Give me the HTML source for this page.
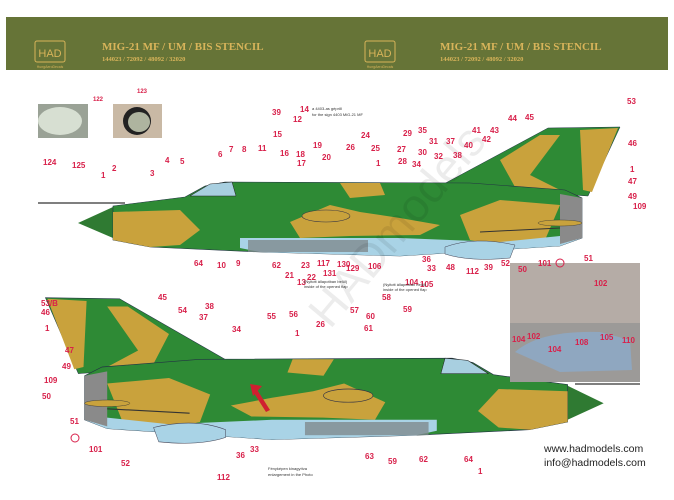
<!DOCTYPE html>
<html><head><meta charset="utf-8"><style>
html,body{margin:0;padding:0;background:#fff;}
svg{display:block;}
.r{font-family:"Liberation Sans",sans-serif;font-weight:bold;font-size:8px;fill:#d8204a;}
.s{font-family:"Liberation Sans",sans-serif;font-size:4px;fill:#333;}
</style></head><body>
<svg width="674" height="500" viewBox="0 0 674 500" xmlns="http://www.w3.org/2000/svg">
<defs>
<g id="plane">
  <path d="M78,223 L113,207 L113,238 Z" fill="#2f7a32"/>
  <path d="M440,186 L548,128 L620,127 L588,196 Z" fill="#2e8a35" stroke="#234" stroke-width="0.5"/>
  <path d="M500,160 L540,135 L560,135 L530,175 L560,190 L520,196 Z" fill="#c9a23c"/>
  <path d="M580,130 L618,128 L592,192 L583,190 Z" fill="#c9a23c"/>
  <path d="M113,206 L185,197 L205,186 L225,182 L470,183 L565,190 L582,198 L582,238 L560,246 L480,251 L400,256 L260,252 L150,247 L113,240 Z" fill="#2e8a35" stroke="#234" stroke-width="0.6"/>
  <path d="M190,196 L210,184 L232,182 L236,196 Z" fill="#a8cfe0" stroke="#222" stroke-width="0.5"/>
  <path d="M113,212 L180,210 L200,230 L180,245 L150,247 L113,240 Z" fill="#c9a23c"/>
  <path d="M290,222 L330,205 L360,212 L400,218 L440,225 L420,235 L350,236 L300,238 Z" fill="#c9a23c"/>
  <path d="M340,183 L380,183 L385,195 L350,198 Z" fill="#c9a23c"/>
  <path d="M460,215 L500,200 L560,205 L545,240 L500,246 L470,240 Z" fill="#c9a23c"/>
  <path d="M240,238 L400,238 L500,242 L560,236 L582,238 L560,246 L480,251 L400,256 L260,252 L240,248 Z" fill="#a9d3e6"/>
  <path d="M445,247 Q475,236 515,245 L510,258 Q470,262 445,254 Z" fill="#a9d3e6" stroke="#445" stroke-width="0.5"/>
  <rect x="248" y="240" width="120" height="12" fill="#7f8b8f" opacity="0.8"/>
  <ellipse cx="326" cy="216" rx="24" ry="6" fill="#c9a23c" stroke="#334" stroke-width="0.6"/>
  <path d="M560,194 L582,198 L582,238 L560,244 Z" fill="#8a8a8a"/>
  <line x1="480" y1="232" x2="560" y2="228" stroke="#333" stroke-width="1"/>
  <ellipse cx="560" cy="223" rx="22" ry="3" fill="#c9a23c" stroke="#333" stroke-width="0.4"/>
</g>
</defs>
<rect x="6" y="17" width="662" height="53" fill="#6d7a3c"/>
<rect x="6" y="17" width="662" height="53" fill="#55662e" opacity="0.3"/>
<rect x="35" y="41" width="30" height="21" fill="none" stroke="#d8b45a" stroke-width="1" rx="2"/>
<text x="50" y="57" text-anchor="middle" font-family="Liberation Sans,sans-serif" font-size="11" fill="#d8b45a">HAD</text>
<text x="50" y="68" text-anchor="middle" font-family="Liberation Sans,sans-serif" font-size="3.5" fill="#d8b45a">HungAeroDecals</text>
<rect x="365" y="41" width="30" height="21" fill="none" stroke="#d8b45a" stroke-width="1" rx="2"/>
<text x="380" y="57" text-anchor="middle" font-family="Liberation Sans,sans-serif" font-size="11" fill="#d8b45a">HAD</text>
<text x="380" y="68" text-anchor="middle" font-family="Liberation Sans,sans-serif" font-size="3.5" fill="#d8b45a">HungAeroDecals</text>
<text x="102" y="50" font-family="Liberation Serif,serif" font-weight="bold" font-size="11" fill="#d8b45a">MIG-21 MF / UM / BIS STENCIL</text>
<text x="102" y="61" font-family="Liberation Serif,serif" font-weight="bold" font-size="6.5" fill="#d8b45a">144023 / 72092 / 48092 / 32020</text>
<text x="440" y="50" font-family="Liberation Serif,serif" font-weight="bold" font-size="11" fill="#d8b45a">MIG-21 MF / UM / BIS STENCIL</text>
<text x="440" y="61" font-family="Liberation Serif,serif" font-weight="bold" font-size="6.5" fill="#d8b45a">144023 / 72092 / 48092 / 32020</text>
<rect x="38" y="104" width="50" height="34" fill="#9aa296"/>
<ellipse cx="60" cy="121" rx="22" ry="14" fill="#d7dfd2"/>
<rect x="113" y="104" width="49" height="34" fill="#c9b9a5"/>
<circle cx="137" cy="121" r="14" fill="#222"/><ellipse cx="139" cy="122" rx="11" ry="10" fill="#aeb49f"/>
<line x1="38" y1="203" x2="125" y2="203" stroke="#555" stroke-width="1.5"/>
<use href="#plane"/>
<use href="#plane" transform="translate(684,158) scale(-1.03,1.1)"/>
<line x1="575" y1="384" x2="640" y2="384" stroke="#555" stroke-width="1.5"/>
<rect x="510" y="263" width="130" height="119" fill="#9c9a98"/>
<rect x="510" y="263" width="130" height="60" fill="#b5aca6"/>
<path d="M515,352 Q540,330 600,332 L630,340 L632,370 L560,372 Z" fill="#8fa7c0"/>
<text x="594" y="286" class="r">102</text>
<text class="r" x="512" y="342" font-size="6">104</text>
<text class="r" x="527" y="339" font-size="6">102</text>
<text class="r" x="548" y="352" font-size="6">104</text>
<text class="r" x="575" y="345" font-size="6">108</text>
<text class="r" x="600" y="340" font-size="6">105</text>
<text class="r" x="622" y="343" font-size="6">110</text>
<text x="330" y="330" font-family="Liberation Sans,sans-serif" font-size="46" fill="#000" opacity="0.07" transform="rotate(-50 330 330)">HADmodels</text>
<polygon points="256,388 270,410 266,412 252,390" fill="#d02030"/>
<polygon points="250,384 262,386 253,396" fill="#d02030"/>
<g class="r">
<text x="93" y="101" font-size="6">122</text><text x="137" y="93" font-size="6">123</text>
<text x="43" y="165">124</text><text x="72" y="168">125</text>
<text x="101" y="178">1</text><text x="112" y="171">2</text><text x="150" y="176">3</text><text x="165" y="163">4</text><text x="180" y="164">5</text>
<text x="218" y="157">6</text><text x="229" y="152">7</text><text x="242" y="152">8</text><text x="258" y="151">11</text>
<text x="272" y="115">39</text><text x="300" y="112">14</text><text x="293" y="122">12</text><text x="273" y="137">15</text>
<text x="280" y="156">16</text><text x="296" y="157">18</text><text x="313" y="148">19</text><text x="322" y="160">20</text><text x="297" y="166">17</text>
<text x="346" y="150">26</text><text x="361" y="138">24</text><text x="371" y="151">25</text><text x="397" y="152">27</text><text x="376" y="166">1</text>
<text x="403" y="136">29</text><text x="418" y="133">35</text><text x="429" y="144">31</text><text x="446" y="144">37</text>
<text x="418" y="155">30</text><text x="434" y="159">32</text><text x="398" y="164">28</text><text x="412" y="167">34</text><text x="453" y="158">38</text>
<text x="464" y="148">40</text><text x="472" y="133">41</text><text x="490" y="133">43</text><text x="482" y="142">42</text>
<text x="508" y="121">44</text><text x="525" y="120">45</text><text x="627" y="104">53</text><text x="628" y="146">46</text>
<text x="630" y="172">1</text><text x="628" y="184">47</text><text x="628" y="199">49</text><text x="633" y="209">109</text>
<text x="194" y="266">64</text><text x="217" y="268">10</text><text x="236" y="266">9</text><text x="272" y="268">62</text>
<text x="285" y="278">21</text><text x="301" y="268">23</text><text x="307" y="280">22</text><text x="317" y="266">117</text><text x="323" y="276">131</text>
<text x="337" y="267">130</text><text x="346" y="271">129</text><text x="368" y="269">106</text><text x="405" y="285">104</text><text x="420" y="287">105</text>
<text x="422" y="262">36</text><text x="427" y="271">33</text><text x="446" y="270">48</text><text x="466" y="274">112</text><text x="484" y="270">39</text>
<text x="501" y="266">52</text><text x="518" y="272">50</text><text x="538" y="266">101</text><text x="584" y="261">51</text>
<text x="297" y="285">13</text>
<text x="41" y="306">53/B</text><text x="158" y="300">45</text><text x="178" y="313">54</text><text x="205" y="309">38</text><text x="199" y="320">37</text>
<text x="232" y="332">34</text><text x="267" y="319">55</text><text x="289" y="317">56</text><text x="295" y="336">1</text><text x="316" y="327">26</text>
<text x="350" y="313">57</text><text x="366" y="319">60</text><text x="382" y="300">58</text><text x="364" y="331">61</text><text x="403" y="312">59</text>
<text x="41" y="315">46</text><text x="45" y="331">1</text><text x="65" y="353">47</text><text x="62" y="369">49</text><text x="44" y="383">109</text><text x="42" y="399">50</text>
<text x="70" y="424">51</text><text x="89" y="452">101</text><text x="121" y="466">52</text><text x="217" y="480">112</text>
<text x="236" y="458">36</text><text x="250" y="452">33</text><text x="365" y="459">63</text><text x="388" y="464">59</text><text x="419" y="462">62</text>
<text x="464" y="462">64</text><text x="478" y="474">1</text>
</g>
<circle cx="75" cy="438" r="4" fill="none" stroke="#d8204a"/>
<circle cx="560" cy="263" r="4" fill="none" stroke="#d8204a"/>
<text class="s" x="312" y="110">a 4403-as gépről</text><text class="s" x="312" y="116">for the sign 4403 MiG-21 MF</text>
<text class="s" x="304" y="283">(Nyitott állapotban belül)</text><text class="s" x="304" y="288">inside of the opened flap</text>
<text class="s" x="383" y="286">(Nyitott állapotban belül)</text><text class="s" x="383" y="291">inside of the opened flap</text>
<text class="s" x="268" y="470">Fényképen kinagyítva</text><text class="s" x="268" y="476">enlargement in the Photo</text>
<text x="544" y="452" font-family="Liberation Sans,sans-serif" font-size="10.5" fill="#222">www.hadmodels.com</text>
<text x="544" y="466" font-family="Liberation Sans,sans-serif" font-size="10.5" fill="#222">info@hadmodels.com</text>
</svg>
</body></html>
